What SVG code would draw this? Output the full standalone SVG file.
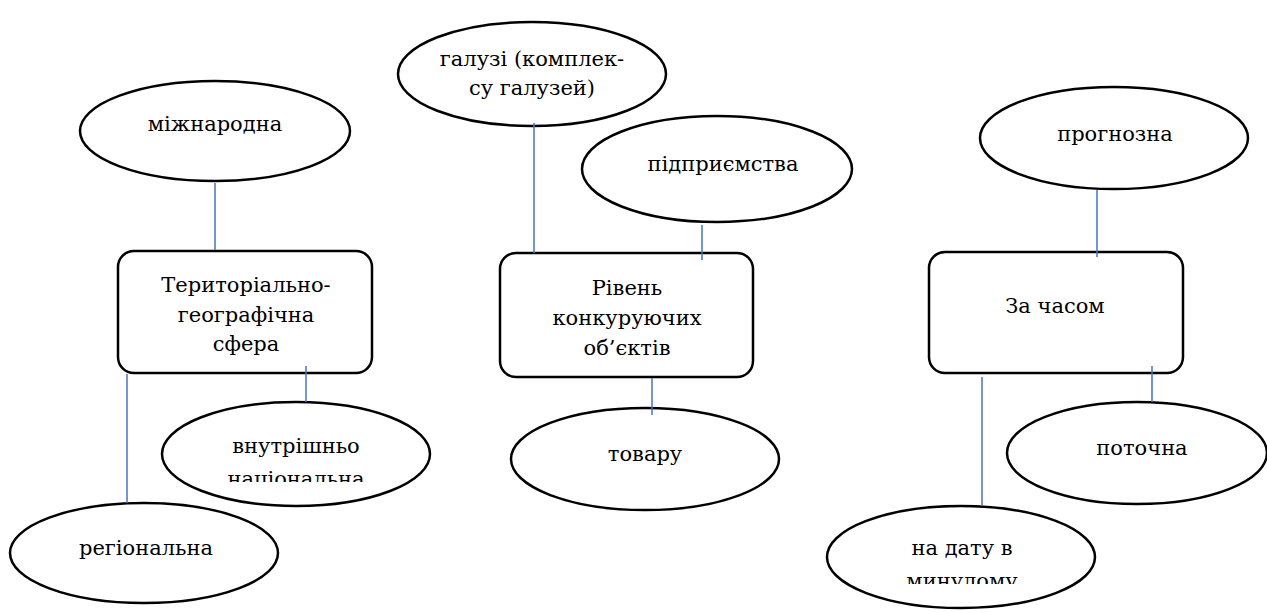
<svg xmlns="http://www.w3.org/2000/svg" width="1267" height="613" viewBox="0 0 1267 613">
<style>
.bg{fill:#fff}
.ell{fill:#fff;stroke:#000;stroke-width:2.5}
.box{fill:#fff;stroke:#000;stroke-width:2.5}
.con{stroke:#4472C4;stroke-width:1.5;fill:none}
text{font-family:"DejaVu Serif","Liberation Serif",serif;font-size:21px;fill:#000;text-anchor:middle}
</style>
<defs>
<clipPath id="clipA"><rect x="150" y="400" width="300" height="82"/></clipPath>
<clipPath id="clipB"><rect x="820" y="500" width="300" height="84"/></clipPath>
</defs>
<rect class="bg" x="0" y="0" width="1267" height="613"/>
<g id="n-mizhnarodna"><ellipse class="ell" cx="215" cy="131" rx="135" ry="50"/><text x="215" y="131">міжнародна</text></g>
<g id="n-terit"><rect class="box" x="118" y="251" width="254" height="122" rx="16"/><text x="246" y="292">Територіально-</text><text x="246" y="322">географічна</text><text x="246" y="351">сфера</text></g>
<g id="n-vnutr"><ellipse class="ell" cx="296" cy="454" rx="134" ry="52"/><g clip-path="url(#clipA)"><text x="296" y="453">внутрішньо</text><text x="296" y="486">національна</text></g></g>
<g id="n-region"><ellipse class="ell" cx="144" cy="553" rx="134" ry="50"/><text x="146" y="555">регіональна</text></g>
<g id="n-galuzi"><ellipse class="ell" cx="532" cy="74" rx="134" ry="52"/><text x="532" y="66">галузі (комплек-</text><text x="532" y="95">су галузей)</text></g>
<g id="n-pidpr"><ellipse class="ell" cx="717" cy="169" rx="135" ry="53"/><text x="723" y="171">підприємства</text></g>
<g id="n-riven"><rect class="box" x="500" y="253" width="253" height="124" rx="16"/><text x="627" y="295">Рівень</text><text x="627" y="325">конкуруючих</text><text x="627" y="355">об’єктів</text></g>
<g id="n-tovaru"><ellipse class="ell" cx="645" cy="459" rx="134" ry="51"/><text x="645" y="461">товару</text></g>
<g id="n-prognoz"><ellipse class="ell" cx="1114" cy="138" rx="134" ry="51"/><text x="1115" y="141">прогнозна</text></g>
<g id="n-zachasom"><rect class="box" x="929" y="252" width="254" height="121" rx="16"/><text x="1055" y="313">За часом</text></g>
<g id="n-potochna"><ellipse class="ell" cx="1137" cy="453" rx="130" ry="51"/><text x="1142" y="455">поточна</text></g>
<g id="n-nadatu"><ellipse class="ell" cx="961" cy="557" rx="134" ry="51"/><g clip-path="url(#clipB)"><text x="962" y="555">на дату в</text><text x="962" y="588">минулому</text></g></g>
<g id="connectors">
<line class="con" x1="215" y1="183" x2="215" y2="250"/>
<line class="con" x1="127" y1="374" x2="127" y2="503"/>
<line class="con" x1="306" y1="366" x2="306" y2="402"/>
<line class="con" x1="534" y1="123" x2="534" y2="253"/>
<line class="con" x1="702" y1="225" x2="702" y2="260"/>
<line class="con" x1="652" y1="378" x2="652" y2="415"/>
<line class="con" x1="1097" y1="190" x2="1097" y2="257"/>
<line class="con" x1="1152" y1="366" x2="1152" y2="402"/>
<line class="con" x1="982" y1="377" x2="982" y2="506"/>
</g>
</svg>
